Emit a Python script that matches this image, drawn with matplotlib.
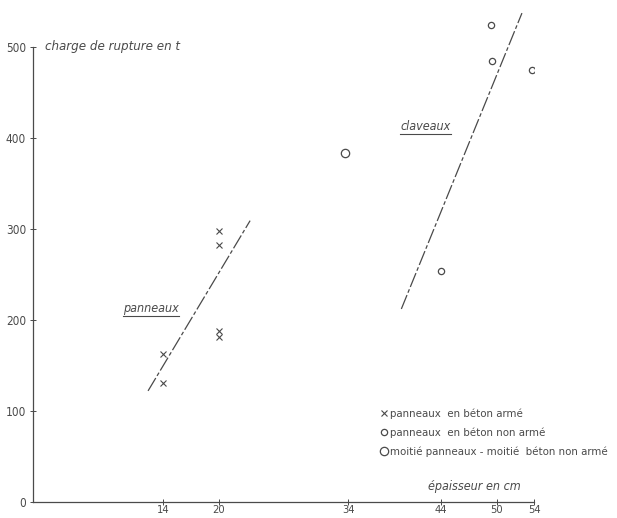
import matplotlib.pyplot as plt
from matplotlib.lines import Line2D

plt.rcParams['font.family'] = ['DejaVu Sans']
plt.rcParams['font.stretch'] = 'condensed'

# panneaux en beton arme (crosses)
arme_x = [14, 14, 20, 20, 20, 20]
arme_y = [163, 131, 298, 282, 188, 181]

# panneaux en beton non arme (small circles)
non_arme_x = [44, 49.4, 49.5, 53.8]
non_arme_y = [254, 524, 484, 474]

# moitie panneaux - moitie beton non arme (large circle)
moitie_x = [33.6]
moitie_y = [383]

# trend lines drawn by hand on the original diagram
panneaux_line_x = [12.4, 23.4]
panneaux_line_y = [122, 309]
claveaux_line_x = [39.7, 52.7]
claveaux_line_y = [212, 537]

x_ticks = [14, 20, 34, 44, 50, 54]
y_ticks = [0, 100, 200, 300, 400, 500]

ink = '#4a4a4a'

fig = plt.figure(figsize=(6.17, 5.18), dpi=100)
ax = fig.add_axes([0.0535, 0.031, 0.812, 0.949])

dash = (12, 2, 3, 2)
ax.plot(panneaux_line_x, panneaux_line_y, color=ink, lw=0.9, dashes=dash)
ax.plot(claveaux_line_x, claveaux_line_y, color=ink, lw=0.9, dashes=dash)

h1, = ax.plot(arme_x, arme_y, 'x', color=ink, ms=4, mew=0.8, ls='none')
h2, = ax.plot(non_arme_x, non_arme_y, 'o', mfc='none', mec=ink, ms=4.5, mew=0.9, ls='none')
h3, = ax.plot(moitie_x, moitie_y, 'o', mfc='none', mec=ink, ms=6, mew=0.9, ls='none')

ax.set_xlim(0, 54)
ax.set_ylim(0, 540)
ax.spines['top'].set_visible(False)
ax.spines['right'].set_visible(False)
ax.spines['left'].set_bounds(0, 500)
for s in ['left', 'bottom']:
    ax.spines[s].set_color(ink)
    ax.spines[s].set_linewidth(0.9)

ax.set_xticks(x_ticks)
ax.set_yticks(y_ticks)
ax.tick_params(axis='both', direction='inout', length=4, width=0.7, colors=ink,
               labelsize=8.5)
ax.tick_params(axis='x', pad=0.5, labelsize=8)
ax.tick_params(axis='y', pad=3)

ax.text(1.3, 500, 'charge de rupture en t', color=ink, fontsize=9.5,
        style='italic', va='center', ha='left')
ax.text(52.6, 17, 'épaisseur en cm', color=ink, fontsize=9,
        style='italic', va='center', ha='right')

t1 = ax.text(9.7, 213, 'panneaux', color=ink, fontsize=9, style='italic',
             va='center', ha='left')
t2 = ax.text(39.6, 412, 'claveaux', color=ink, fontsize=9, style='italic',
             va='center', ha='left')

ax.legend([h1, h2, h3],
          ['panneaux  en béton armé', 'panneaux  en béton non armé',
           'moitié panneaux - moitié  béton non armé'],
          loc='upper left', bbox_to_anchor=(0.683, 0.202), frameon=False,
          fontsize=8.2, handlelength=0.5, handletextpad=0.3, labelspacing=0.75,
          borderpad=0, labelcolor=ink)

# underline the two group labels
fig.canvas.draw()
r = fig.canvas.get_renderer()
inv = fig.transFigure.inverted()
for t in (t1, t2):
    bb = t.get_window_extent(r)
    (x0, y0), (x1, _) = inv.transform([[bb.x0, bb.y0], [bb.x1, bb.y1]])
    fig.add_artist(Line2D([x0, x1], [y0 - 0.002, y0 - 0.002], color=ink, lw=0.8,
                          transform=fig.transFigure))

fig.savefig('out.png', dpi=100)
